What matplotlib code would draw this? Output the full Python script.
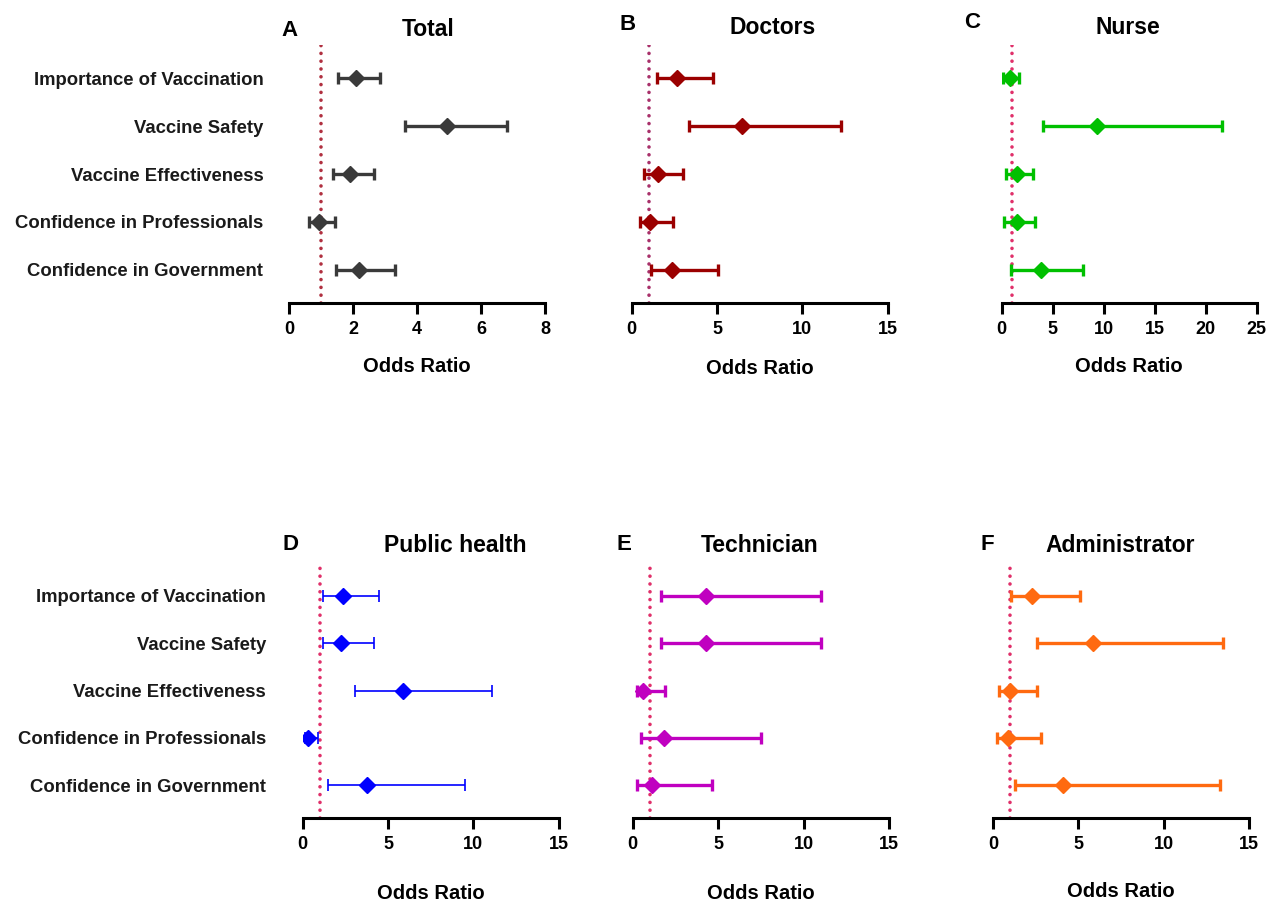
import matplotlib
matplotlib.use("Agg")
import matplotlib.pyplot as plt
import numpy as np

plt.rcParams['font.family'] = ['Liberation Sans', 'DejaVu Sans']

categories = ["Importance of Vaccination", "Vaccine Safety", "Vaccine Effectiveness",
              "Confidence in Professionals", "Confidence in Government"]

# odds ratio, lower CI, upper CI per panel
total_or = [2.08, 4.95, 1.90, 0.94, 2.19]
total_lo = [1.53, 3.61, 1.37, 0.63, 1.48]
total_hi = [2.83, 6.81, 2.65, 1.43, 3.32]

doctors_or = [2.67, 6.46, 1.56, 1.09, 2.38]
doctors_lo = [1.50, 3.36, 0.74, 0.49, 1.11]
doctors_hi = [4.78, 12.24, 3.02, 2.44, 5.07]

nurse_or = [0.81, 9.37, 1.53, 1.53, 3.88]
nurse_lo = [0.16, 4.08, 0.42, 0.26, 0.88]
nurse_hi = [1.67, 21.6, 3.04, 3.26, 7.94]

public_or = [2.38, 2.23, 5.89, 0.33, 3.75]
public_lo = [1.21, 1.21, 3.05, 0.13, 1.50]
public_hi = [4.49, 4.18, 11.1, 0.88, 9.51]

tech_or = [4.29, 4.29, 0.62, 1.85, 1.11]
tech_lo = [1.64, 1.64, 0.27, 0.47, 0.27]
tech_hi = [10.99, 10.99, 1.87, 7.50, 4.66]

admin_or = [2.25, 5.87, 0.98, 0.84, 4.11]
admin_lo = [1.04, 2.58, 0.35, 0.23, 1.25]
admin_hi = [5.09, 13.47, 2.55, 2.80, 13.31]

panels = [
    ("A", "Total", total_or, total_lo, total_hi, "#3a3a3a", 8, [0, 2, 4, 6, 8], 2.4, "#b03040"),
    ("B", "Doctors", doctors_or, doctors_lo, doctors_hi, "#9b0000", 15, [0, 5, 10, 15], 2.4, "#a8306a"),
    ("C", "Nurse", nurse_or, nurse_lo, nurse_hi, "#00c000", 25, [0, 5, 10, 15, 20, 25], 2.4, "#e0306a"),
    ("D", "Public health", public_or, public_lo, public_hi, "#0000ff", 15, [0, 5, 10, 15], 1.2, "#e0306a"),
    ("E", "Technician", tech_or, tech_lo, tech_hi, "#c000c0", 15, [0, 5, 10, 15], 2.4, "#e0306a"),
    ("F", "Administrator", admin_or, admin_lo, admin_hi, "#ff6a10", 15, [0, 5, 10, 15], 2.4, "#e0306a"),
]

W, H = 1277, 905
# axes boxes in pixels: left, right, top, bottom
boxes = [
    (289, 545, 45, 303),
    (631.7, 887.7, 45, 303),
    (1001.7, 1256.7, 45, 303),
    (302.7, 558.7, 563, 818),
    (632.7, 889.3, 563, 818),
    (993.3, 1248.7, 563, 818),
]
title_pos = [(428, 30), (773, 28), (1128, 28), (455, 545), (760, 545), (1120, 545)]
letter_pos = [(289.5, 31), (628, 24), (972, 23), (290, 545), (624, 545), (987, 545)]
xlabel_y = [366, 368, 366, 893, 893, 891]
ylabel_pad = [18.5, None, None, 26.5, None, None]

fig = plt.figure(figsize=(W / 100, H / 100), dpi=100)

for i, (letter, title, orv, lo, hi, col, xmax, ticks, lw, refcol) in enumerate(panels):
    l, r, t, b = boxes[i]
    ax = fig.add_axes([l / W, 1 - b / H, (r - l) / W, (b - t) / H])
    for s in ['top', 'right', 'left']:
        ax.spines[s].set_visible(False)
    y = np.arange(1, len(categories) + 1)
    orv = np.array(orv); lo = np.array(lo); hi = np.array(hi)
    ax.axvline(1, color=refcol, lw=2.6, ls=(0, (0.01, 2.15)), dash_capstyle='round', zorder=1)
    ax.errorbar(orv, y, xerr=[orv - lo, hi - orv], fmt='D', color=col, ecolor=col,
                elinewidth=lw, capsize=4, capthick=lw, markersize=8.5, zorder=3)
    ax.set_xlim(0, xmax)
    ax.set_ylim(5.69, 0.31)
    ax.spines['bottom'].set_linewidth(2.2)
    ax.set_xticks(ticks)
    ax.set_xticklabels([str(v) for v in ticks], fontsize=13, fontweight='bold')
    ax.tick_params(axis='x', direction='out', length=8, width=2.2, pad=5)
    if ylabel_pad[i] is not None:
        ax.set_yticks(y)
        ax.set_yticklabels(categories, fontsize=13.3, fontweight='bold', color='#1a1a1a')
        ax.tick_params(axis='y', length=0, pad=ylabel_pad[i])
    else:
        ax.set_yticks([])
    fig.text(title_pos[i][0] / W, 1 - title_pos[i][1] / H, title, fontsize=16.5,
             fontweight='bold', ha='center', va='center')
    fig.text(letter_pos[i][0] / W, 1 - letter_pos[i][1] / H, letter, fontsize=16,
             fontweight='bold', ha='center', va='center')
    fig.text((l + r) / 2 / W, 1 - xlabel_y[i] / H, "Odds Ratio", fontsize=14.5,
             fontweight='bold', ha='center', va='center')

fig.savefig("out.png", dpi=100)
